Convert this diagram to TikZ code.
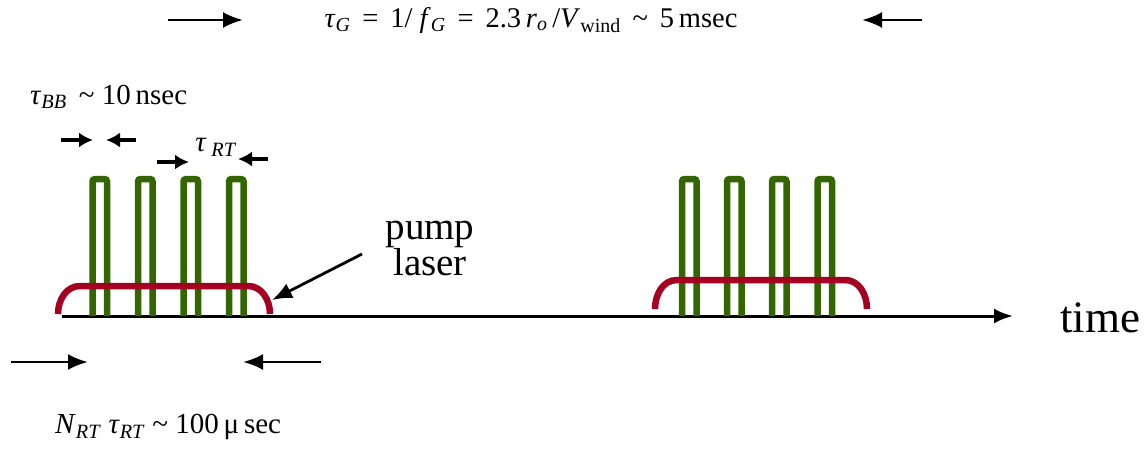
\documentclass[tikz,border=0pt]{standalone}
\usepackage{fontspec}
\setmainfont{Liberation Serif}
\usetikzlibrary{arrows.meta}
\definecolor{pulsegreen}{HTML}{336600}
\definecolor{pumpred}{HTML}{A50021}
\newcommand{\ts}[1]{\textit{#1}}
\begin{document}
\begin{tikzpicture}[x=1pt,y=-1pt,
  pulse/.style={draw=pulsegreen,line width=6.5pt,rounded corners=2.5pt},
  pump/.style={draw=pumpred,line width=6.5pt},
  axisline/.style={line width=3pt,-{Latex[length=19pt,width=15pt]}},
  bigarrow/.style={line width=2.8pt,-{Latex[length=20pt,width=16pt]}},
  smallarrow/.style={line width=3.4pt,-{Latex[length=14pt,width=15pt]}},
  lbl/.style={inner sep=0pt,font=\fontsize{29}{32}\selectfont},
  biglbl/.style={inner sep=0pt,align=center,font=\fontsize{39}{40}\selectfont}]
\useasboundingbox (0,0) rectangle (1147,448);
% axis
\coordinate (ax0) at (62,316);
\coordinate (ax1) at (1013,316);
\draw[axisline] (ax0) -- (ax1);
\node[inner sep=0pt,anchor=west,font=\fontsize{45}{46}\selectfont] (time) at (1060,318) {time};
% green pulses
\foreach \L in {92.5,138,183.5,229, 682,727,772,817.5}{
  \draw[pulse] (\L,316) -- (\L,179) -- (\L+14.5,179) -- (\L+14.5,316);
}
% pump laser profiles
\draw[pump] (58,314) to[out=90,in=180] (80,286) -- (248,286) to[out=0,in=90] (270,314);
\draw[pump] (655,309) to[out=90,in=180] (677,280) -- (845,280) to[out=0,in=90] (867,309);
% pump laser label
\node[biglbl] (pl) at (430,248) {pump\\[-4pt]laser};
\coordinate (pltail) at (362,254);
\coordinate (plhead) at (272,300);
\draw[bigarrow] (pltail) -- (plhead);
% top equation
\node[lbl,font=\fontsize{28.5}{30}\selectfont] (eq) at (531,20) {\ts{τ}\textsubscript{\ts{G}}\, =\, 1/ \ts{f}\textsubscript{\ts{G}}\, =\, 2.3\,\ts{r}\textsubscript{\ts{o}}\,/\ts{V}\textsubscript{wind}\, \char`\~{}\, 5\,msec};
\coordinate (ta1) at (168,20); \coordinate (ta2) at (243,20);
\coordinate (ta3) at (922,20); \coordinate (ta4) at (862,20);
\draw[bigarrow] (ta1) -- (ta2);
\draw[bigarrow] (ta3) -- (ta4);
% tau_BB
\node[lbl,anchor=west] (bb) at (30,97) {\ts{τ}\textsubscript{\ts{BB}}\, \char`\~{} 10\,nsec};
\coordinate (s1a) at (61,140); \coordinate (s1b) at (93,140);
\coordinate (s2a) at (136,140); \coordinate (s2b) at (106,140);
\draw[smallarrow] (s1a) -- (s1b);
\draw[smallarrow] (s2a) -- (s2b);
% tau_RT
\node[lbl] (rt) at (216,147) {\ts{τ}\,\textsubscript{\ts{RT}}};
\coordinate (s3a) at (157,162); \coordinate (s3b) at (189,162);
\coordinate (s4a) at (268,159); \coordinate (s4b) at (238,159);
\draw[smallarrow] (s3a) -- (s3b);
\draw[smallarrow] (s4a) -- (s4b);
% bottom
\coordinate (b1a) at (11,362); \coordinate (b1b) at (88,362);
\coordinate (b2a) at (321,362); \coordinate (b2b) at (243,362);
\draw[bigarrow] (b1a) -- (b1b);
\draw[bigarrow] (b2a) -- (b2b);
\node[lbl,anchor=west] (nrt) at (55,427) {\ts{N}\textsubscript{\ts{RT}} \ts{τ}\textsubscript{\ts{RT}} \char`\~{} 100\,μ\,sec};
\end{tikzpicture}
\end{document}
